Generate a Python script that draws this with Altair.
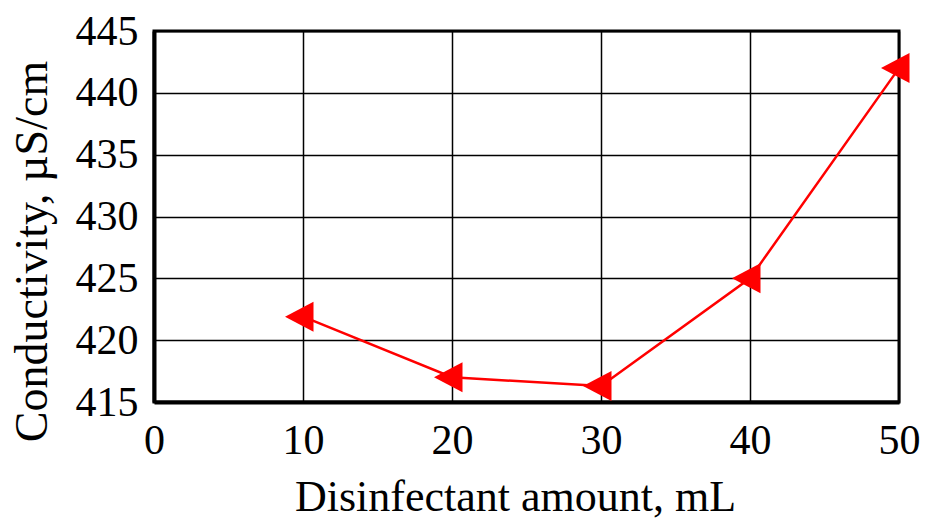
import altair as alt
import pandas as pd

amount = [10, 20, 30, 40, 50]
conductivity = [421.9, 417.0, 416.3, 425.0, 442.0]

df = pd.DataFrame({"amount": amount, "cond": conductivity})

FONT = "Liberation Serif"

x = alt.X("amount:Q", scale=alt.Scale(domain=[0, 50], nice=False),
          axis=alt.Axis(title="Disinfectant amount, mL", values=[0, 10, 20, 30, 40, 50],
                        labelFontSize=42, titleFontSize=44, labelPadding=18,
                        labelFlush=False, titleAlign="center", titleBaseline="alphabetic",
                        titleX=361, titleY=108,
                        ticks=False, domainWidth=4, domainColor="black",
                        gridColor="black", gridWidth=1.5, gridOpacity=1,
                        labelColor="black", titleColor="black",
                        labelFont=FONT, titleFont=FONT, titleFontWeight="normal"))
y = alt.Y("cond:Q", scale=alt.Scale(domain=[415, 445], nice=False, zero=False),
          axis=alt.Axis(title="Conductivity, µS/cm", values=[415, 420, 425, 430, 435, 440, 445],
                        labelFontSize=42, titleFontSize=46, labelPadding=16,
                        labelFlush=False, titleAngle=270, titleAlign="center",
                        titleBaseline="alphabetic", titleX=-108, titleY=220,
                        ticks=False, domainWidth=4, domainColor="black",
                        gridColor="black", gridWidth=1.5, gridOpacity=1,
                        labelColor="black", titleColor="black",
                        labelFont=FONT, titleFont=FONT, titleFontWeight="normal"))

line = alt.Chart(df).mark_line(color="#ff0000", strokeWidth=2.5).encode(x=x, y=y)
pts = alt.Chart(df).mark_point(shape="M-1.2,0L0.7,-1L0.7,1Z", filled=True, color="#ff0000",
                               size=900, opacity=1).encode(x=x, y=y)

chart = (line + pts).properties(
    width=745, height=371,
    autosize=alt.AutoSizeParams(type="none"),
    padding={"left": 154, "top": 31, "right": 27, "bottom": 117},
    background="white",
).configure_view(stroke="black", strokeWidth=3)

chart.save("out.html", embed_options={"renderer": "svg", "actions": False})
